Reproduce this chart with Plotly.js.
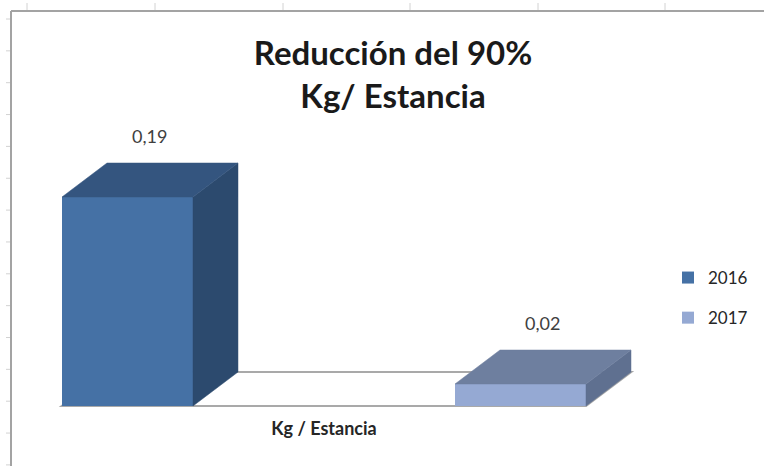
<!DOCTYPE html>
<html>
<head>
<meta charset="utf-8">
<script src="https://cdn.plot.ly/plotly-3.0.1.min.js"></script>
<style>
  html, body { margin: 0; padding: 0; background: #ffffff; }
  #chart { width: 764px; height: 466px; }
</style>
</head>
<body>
<div id="chart"></div>
<script>
// Chart data
const chartTitle = 'Reducción del 90%<br>Kg/ Estancia';
const categories = ['Kg / Estancia'];
const years = ['2016', '2017'];
const values = [0.19, 0.02];

// Face colours per series: front, top, side
const frontColors = ['#4571a5', '#95a9d3'];
const topColors = ['#34557f', '#6e7f9f'];
const sideColors = ['#2c4a6e', '#5f7090'];

// Pseudo-3D geometry (data units)
const W = 0.3333;    // bar width
const DX = 0.1145;   // depth offset along x
const DY = 0.0309;   // depth offset along y

const W_PX = 764, H_PX = 466, MB = 57;
const plotH = H_PX - MB;
const FONT = 'Lato, "Liberation Sans", sans-serif';

const fmt = v => v.toFixed(2).replace('.', ',');

const traces = [];
// Front faces as real bars
years.forEach((yr, i) => {
  traces.push({
    type: 'bar',
    name: yr,
    x: [i],
    y: [values[i]],
    width: W,
    marker: { color: frontColors[i], line: { width: 0 } },
    legendgroup: yr,
    hoverinfo: 'name+y'
  });
});
// Side and top faces derived from the same values
years.forEach((yr, i) => {
  const v = values[i];
  const xl = i - W / 2, xr = i + W / 2;
  traces.push({
    type: 'scatter', mode: 'lines', fill: 'toself',
    x: [xr, xr, xr + DX, xr + DX, xr],
    y: [0, v, v + DY, DY, 0],
    fillcolor: sideColors[i],
    line: { color: sideColors[i], width: 0.5 },
    showlegend: false, hoverinfo: 'skip', legendgroup: yr
  });
  traces.push({
    type: 'scatter', mode: 'lines', fill: 'toself',
    x: [xl, xl + DX, xr + DX, xr, xl],
    y: [v, v + DY, v + DY, v, v],
    fillcolor: topColors[i],
    line: { color: topColors[i], width: 0.5 },
    showlegend: false, hoverinfo: 'skip', legendgroup: yr
  });
});

// Floor under the bars
const x0 = -W / 2, x1 = (years.length - 1) + W / 2;
const shapes = [{
  type: 'path', xref: 'x', yref: 'y', layer: 'below',
  path: `M ${x0},0 L ${x0 + DX},${DY} L ${x1 + DX},${DY} L ${x1},0 Z`,
  fillcolor: '#ffffff',
  line: { color: '#a9a9a9', width: 2.2 }
}];

// Frame and worksheet grid marks around the chart object
const px = p => p / W_PX;
const py = p => (plotH - p) / plotH;
shapes.push({ type: 'line', xref: 'paper', yref: 'paper', x0: px(11), x1: px(11), y0: py(11), y1: py(470), line: { color: '#a3a3a3', width: 2 } });
shapes.push({ type: 'line', xref: 'paper', yref: 'paper', x0: px(11), x1: px(770), y0: py(11), y1: py(11), line: { color: '#a3a3a3', width: 2 } });
[27, 155, 283, 410, 538, 665].forEach(g => {
  shapes.push({ type: 'line', xref: 'paper', yref: 'paper', x0: px(g), x1: px(g), y0: py(3), y1: py(10), line: { color: '#d2d2d2', width: 1 } });
});
for (let r = 19; r < H_PX; r += 31.85) {
  shapes.push({ type: 'line', xref: 'paper', yref: 'paper', x0: px(6), x1: px(10), y0: py(r), y1: py(r), line: { color: '#d2d2d2', width: 1 } });
}

// Value labels above each bar's top face
const annotations = years.map((yr, i) => ({
  x: i + DX / 2, y: values[i] + DY, xref: 'x', yref: 'y',
  text: fmt(values[i]), showarrow: false,
  yanchor: 'bottom', yshift: 14,
  font: { family: FONT, size: 18, color: '#404040' }
}));

const layout = {
  width: W_PX, height: H_PX,
  margin: { l: 0, r: 0, t: 0, b: MB, pad: 0 },
  paper_bgcolor: '#ffffff', plot_bgcolor: 'rgba(0,0,0,0)',
  barmode: 'overlay',
  title: {
    text: chartTitle,
    font: { family: FONT, size: 33, weight: 700, color: '#1a1a1a' },
    x: 393 / W_PX, xanchor: 'center', xref: 'container',
    y: 1 - 65 / H_PX, yanchor: 'top', yref: 'container'
  },
  xaxis: {
    range: [-0.3244, 1.6196],
    tickvals: [0.5], ticktext: categories,
    ticks: 'outside', ticklen: 3, tickcolor: 'rgba(0,0,0,0)',
    tickfont: { family: FONT, size: 18, weight: 700, color: '#262626' },
    showgrid: false, zeroline: false, showline: false, fixedrange: true
  },
  yaxis: {
    range: [-0.00273, 0.36909],
    visible: false, showgrid: false, zeroline: false, fixedrange: true
  },
  legend: {
    x: 668 / W_PX, xanchor: 'left',
    y: (plotH - 260) / plotH, yanchor: 'top',
    traceorder: 'grouped', tracegroupgap: 15,
    bgcolor: 'rgba(0,0,0,0)',
    font: { family: FONT, size: 17, color: '#262626' }
  },
  shapes: shapes,
  annotations: annotations,
  showlegend: true
};

Plotly.newPlot('chart', traces, layout, { displayModeBar: false, staticPlot: true });
</script>
</body>
</html>
